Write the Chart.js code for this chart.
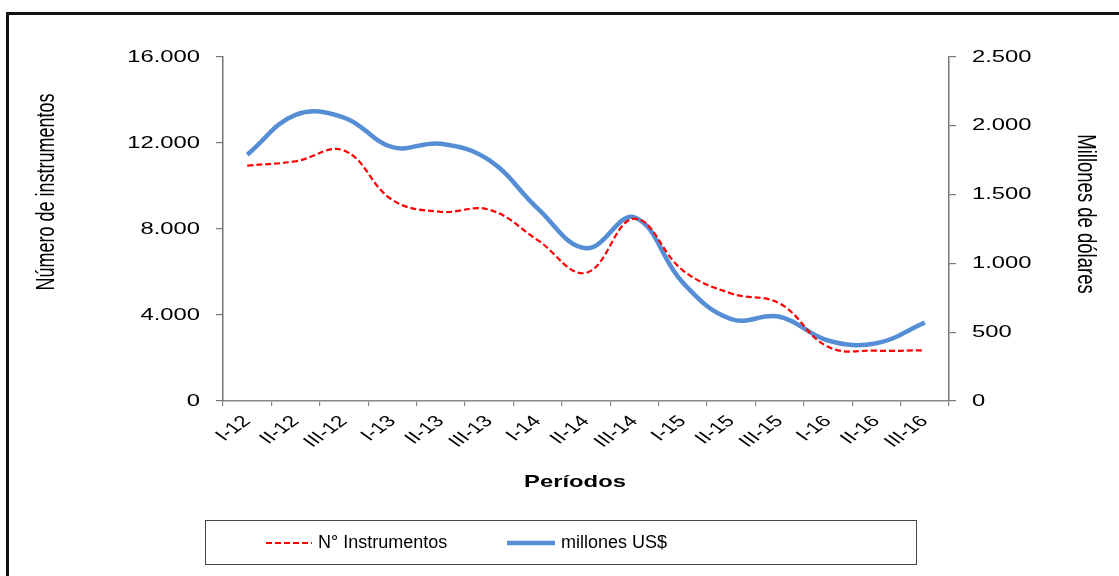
<!DOCTYPE html>
<html><head><meta charset="utf-8">
<script src="https://cdn.jsdelivr.net/npm/chart.js@4.4.1/dist/chart.umd.min.js"></script>
<style>
html,body{margin:0;padding:0;background:#fff;overflow:hidden;width:1119px;height:576px;}
#wrap{position:relative;width:1119px;height:576px;overflow:hidden;}
#frame{position:absolute;left:6px;top:12px;width:1200px;height:700px;border:3px solid #111;box-sizing:border-box;}
canvas{position:absolute;left:0;top:0;}
#legend{position:absolute;left:205px;top:520px;width:712px;height:45px;border:1.5px solid #444;box-sizing:border-box;font-family:'Liberation Sans',Arial,sans-serif;font-size:18px;color:#000;}
.item{position:absolute;top:0;height:100%;display:flex;align-items:center;white-space:nowrap;}
.item svg{margin-right:6px;}
</style>
</head><body>
<div id="wrap">
  <div id="frame"></div>
  <canvas id="c" width="1119" height="576"></canvas>
  <div id="legend">
    <div class="item" style="left:60px;"><svg width="46" height="6"><line x1="0" y1="3" x2="46" y2="3" stroke="#FF0000" stroke-width="2.2" stroke-dasharray="6,3"/></svg><span id="lg1"></span></div>
    <div class="item" style="left:301px;"><svg width="48" height="6"><line x1="0" y1="3" x2="48" y2="3" stroke="#558ED5" stroke-width="4.5"/></svg><span id="lg2"></span></div>
  </div>
</div>
<script>
const categories = ['I-12','II-12','III-12','I-13','II-13','III-13','I-14','II-14','III-14','I-15','II-15','III-15','I-16','II-16','III-16'];
const instrumentos = [10950, 11150, 11650, 9350, 8800, 8900, 7480, 5960, 8480, 6080, 5000, 4540, 2520, 2340, 2360];
const millonesUSD = [1790, 2080, 2060, 1845, 1870, 1750, 1400, 1110, 1335, 860, 595, 612, 440, 420, 570];
const seriesNames = ['N° Instrumentos', 'millones US$'];
const leftTitle = 'Número de instrumentos';
const rightTitle = 'Millones de dólares';
const xTitle = 'Períodos';

document.getElementById('lg1').textContent = seriesNames[0];
document.getElementById('lg2').textContent = seriesNames[1];

const FONT = '"Liberation Sans", Arial, sans-serif';
const STRETCH = 1.4; // the reference's chart text is widened horizontally
function fmt(v){ return String(v).replace(/\B(?=(\d{3})+(?!\d))/g, '.'); }

// Widen canvas text horizontally (in screen space) around each label's anchor point.
const stretchPlugin = {
  id: 'stretchText',
  beforeInit(chart){
    const ctx = chart.ctx;
    if (ctx.__patched) return;
    ctx.__patched = true;
    const orig = ctx.fillText;
    ctx.fillText = function(text, x, y, maxWidth){
      const M = this.getTransform();
      const p = M.transformPoint(new DOMPoint(x, y));
      const S = new DOMMatrix().translate(p.x, p.y).scale(STRETCH, 1).translate(-p.x, -p.y);
      this.save();
      this.setTransform(S.multiply(M));
      if (maxWidth === undefined) orig.call(this, text, x, y); else orig.call(this, text, x, y, maxWidth);
      this.restore();
    };
  },
  afterDraw(chart){
    const ctx = chart.ctx;
    const a = chart.chartArea;
    ctx.save();
    ctx.fillStyle = '#000';
    ctx.textAlign = 'center';
    ctx.textBaseline = 'middle';
    ctx.font = '18px ' + FONT;
    ctx.save();
    ctx.translate(a.left - 176, a.top + 135);
    ctx.rotate(-Math.PI / 2);
    ctx.fillText(leftTitle, 0, 0);
    ctx.restore();
    ctx.save();
    ctx.translate(a.right + 136, a.top + 157);
    ctx.rotate(Math.PI / 2);
    ctx.font = '18.5px ' + FONT;
    ctx.fillText(rightTitle, 0, 0);
    ctx.restore();
    ctx.font = 'bold 17px ' + FONT;
    ctx.fillText(xTitle, (a.left + a.right) / 2 - 11, a.bottom + 81);
    ctx.restore();
  }
};

new Chart(document.getElementById('c'), {
  type: 'line',
  data: {
    labels: categories,
    datasets: [
      { label: seriesNames[0], data: instrumentos, yAxisID: 'y', borderColor: '#FF0000', borderWidth: 2.2, borderDash: [6, 3], pointRadius: 0, tension: 0.4, fill: false, order: 0 },
      { label: seriesNames[1], data: millonesUSD, yAxisID: 'y1', borderColor: '#558ED5', borderWidth: 4.5, pointRadius: 0, tension: 0.4, fill: false, order: 1 }
    ]
  },
  options: {
    responsive: false,
    animation: false,
    layout: { padding: { left: 10, right: 70, top: 57, bottom: 0 } },
    plugins: { legend: { display: false }, tooltip: { enabled: false }, title: { display: false } },
    scales: {
      x: {
        offset: true,
        grid: { display: true, offset: true, drawOnChartArea: false, drawTicks: true, tickLength: 5, color: '#888', lineWidth: 1.2 },
        border: { display: true, color: '#888', width: 1.5 },
        ticks: { autoSkip: false, minRotation: 45, maxRotation: 45, color: '#000', padding: 6, font: { family: FONT, size: 16 } },
        afterFit(s){ s.height = 175; }
      },
      y: {
        position: 'left', min: 0, max: 16000,
        grid: { display: true, drawOnChartArea: false, drawTicks: true, tickLength: 7, color: '#777', lineWidth: 1.2 },
        border: { display: true, color: '#777', width: 1.5 },
        ticks: { stepSize: 4000, color: '#000', padding: 16, font: { family: FONT, size: 17 }, callback: v => fmt(v) },
        afterFit(s){ s.width = 213; }
      },
      y1: {
        position: 'right', min: 0, max: 2500,
        grid: { display: true, drawOnChartArea: false, drawTicks: true, tickLength: 7, color: '#777', lineWidth: 1.2 },
        border: { display: true, color: '#777', width: 1.5 },
        ticks: { stepSize: 500, color: '#000', padding: 16, font: { family: FONT, size: 17 }, callback: v => fmt(v) },
        afterFit(s){ s.width = 100; }
      }
    }
  },
  plugins: [stretchPlugin]
});
</script>
</body></html>
